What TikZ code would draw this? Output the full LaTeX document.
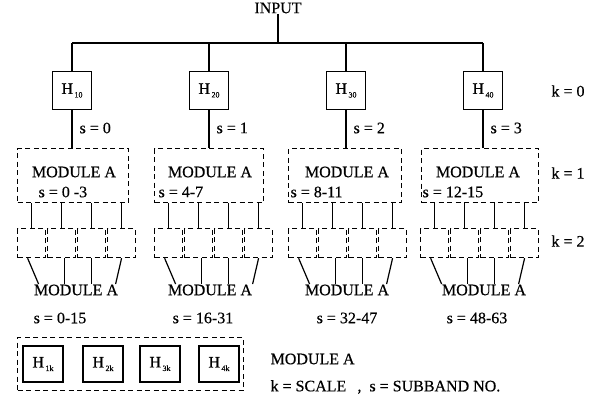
\documentclass[tikz,border=0pt]{standalone}
\usepackage{fontspec}
\setmainfont{Liberation Serif}[FakeBold=0.4]
\newcommand\Hs[1]{H\kern1.5pt\raisebox{-3.5pt}{\fontsize{8}{8}\selectfont #1}}
\begin{document}
\begin{tikzpicture}[x=1pt,y=-1pt,line width=1.2pt,
  hbox/.style={draw,minimum width=39pt,minimum height=38pt,inner sep=0pt,font=\fontsize{16}{16}\selectfont},
  dbox/.style={draw,dash pattern=on 5pt off 3.5pt,inner sep=0pt,anchor=north west},
  lab/.style={inner sep=0pt,font=\fontsize{16}{18}\selectfont}]
\useasboundingbox (0,0) rectangle (601,402);
\node[lab] (input) at (278,8) {INPUT};
\coordinate (bus) at (278,43);
\draw (input.south) -- (bus);
\foreach \i/\n/\hx/\kl/\kw/\mx/\sx/\st/\L/\bx/\rx/\rt in {
  1/0/72/17/111/74/38/{0 -3}/17/76/60/{0-15},
  2/1/209/154/109/210/158/{4-7}/154/210/203/{16-31},
  3/2/346/288/113/347/290/{8-11}/288/347/347/{32-47},
  4/3/483/421/117/478/422/{12-15}/420/484/477/{48-63}}{
  \node[hbox] (h\i) at (\hx,90.5) {\Hs{\i0}};
  \draw (h\i.north) -- (h\i.north |- bus);
  \node[dbox,minimum width=\kw pt,minimum height=54pt] (k\i) at (\kl,148) {};
  \draw (h\i.south) -- (h\i.south |- k\i.north);
  \node[lab,anchor=west] (s\i) at (\hx+7,128) {s = \n};
  \node[lab] (km\i) at (\mx,172) {MODULE A};
  \node[lab,anchor=west] (ks\i) at (\sx,192) {s = \st};
  \foreach \j in {0,...,3}{
    \node[dbox,minimum width=28pt,minimum height=29pt] (q\i\j) at (\L+30*\j,228) {};
    \draw (q\i\j.north) -- (q\i\j.north |- k\i.south);
  }
  \node[lab] (mb\i) at (\bx,290) {MODULE A};
  \draw ([xshift=-4pt]q\i0.south) -- ([xshift=7pt]q\i0.south |- mb\i.north);
  \draw ([xshift=3pt]q\i1.south) -- ([xshift=3pt]q\i1.south |- mb\i.north);
  \draw (q\i2.south) -- (q\i2.south |- mb\i.north);
  \draw (q\i3.south) -- ([xshift=-6pt]q\i3.south |- mb\i.north);
  \node[lab] (r\i) at (\rx,318) {s = \rt};
}
\draw (h1.north |- bus) -- (h4.north |- bus);
\node[lab] (k0) at (568,91) {k = 0};
\node[lab] (k1) at (568,173) {k = 1};
\node[lab] (k2) at (568,241) {k = 2};
\node[dbox,minimum width=226pt,minimum height=53pt] (leg) at (17,337) {};
\foreach \i/\x in {1/43,2/103,3/160,4/219}{
  \node[hbox,minimum width=40pt,minimum height=36pt] (l\i) at (\x,364) {\Hs{\i k}};
}
\node[lab,anchor=west] (lm) at (270,359) {MODULE A};
\node[lab,anchor=west] (lk) at (270,387) {k = SCALE\hspace{0.7em},\hspace{0.5em}s = SUBBAND NO.};
\end{tikzpicture}
\end{document}
